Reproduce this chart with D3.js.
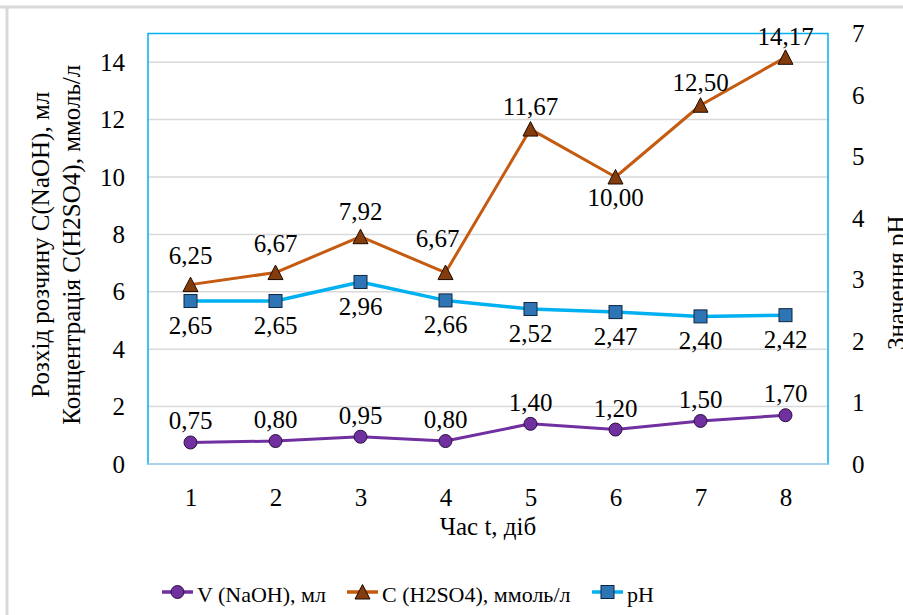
<!DOCTYPE html>
<html><head><meta charset="utf-8">
<script src="https://cdn.jsdelivr.net/npm/d3@7"></script>
<style>
html,body{margin:0;padding:0;background:#fff;}
svg{display:block;}
svg text{font-family:"Liberation Serif","Tinos","Times New Roman","DejaVu Serif","Noto Serif",serif !important;fill:#000;}
</style></head>
<body>
<svg id="chart" width="903" height="615"></svg>
<script>
// ---- data ----
const days = [1, 2, 3, 4, 5, 6, 7, 8];
const vNaOH = [0.75, 0.80, 0.95, 0.80, 1.40, 1.20, 1.50, 1.70];
const cH2SO4 = [6.25, 6.67, 7.92, 6.67, 11.67, 10.00, 12.50, 14.17];
const pH = [2.65, 2.65, 2.96, 2.66, 2.52, 2.47, 2.40, 2.42];
const leftTicks = [0, 2, 4, 6, 8, 10, 12, 14];
const rightTicks = [0, 1, 2, 3, 4, 5, 6, 7];
const seriesNames = ["V (NaOH), мл", "C (H2SO4), ммоль/л", "pH"];
const xTitle = "Час t, діб";
const yTitleLines = ["Розхід розчину C(NaOH), мл", "Концентрація C(H2SO4), ммоль/л"];
const y2Title = "Значення pH";

// ---- layout ----
const SERIF = '"Liberation Serif","Tinos","Times New Roman","DejaVu Serif","Noto Serif",serif';
const svg = d3.select("#chart");
const P = {l: 148, r: 828, t: 33.5, b: 464};
const FONT = 25;

const x = d3.scalePoint().domain(days).range([P.l, P.r]).padding(0.5);
const yL = d3.scaleLinear().domain([0, 15]).range([P.b, P.t]);
const yR = d3.scaleLinear().domain([0, 7]).range([P.b, P.t]);
const fmt = v => d3.format(".2f")(v).replace(".", ",");

// chart-area frame (partial, as in the crop)
svg.append("line").attr("x1", 0).attr("x2", 903).attr("y1", 7).attr("y2", 7)
  .attr("stroke", "#d9d9d9").attr("stroke-width", 3);
svg.append("line").attr("x1", 7).attr("x2", 7).attr("y1", 7).attr("y2", 615)
  .attr("stroke", "#d9d9d9").attr("stroke-width", 3);

// gridlines
svg.append("g").selectAll("line").data(leftTicks.filter(d => d > 0)).join("line")
  .attr("x1", P.l).attr("x2", P.r)
  .attr("y1", d => yL(d)).attr("y2", d => yL(d))
  .attr("stroke", "#d9d9d9").attr("stroke-width", 1.5);

// plot border
svg.append("rect").attr("x", P.l).attr("y", P.t)
  .attr("width", P.r - P.l).attr("height", P.b - P.t)
  .attr("fill", "none").attr("stroke", "#00b0f0").attr("stroke-width", 1.5);
svg.append("line").attr("x1", P.l).attr("x2", P.r).attr("y1", P.b).attr("y2", P.b)
  .attr("stroke", "#a9d3ea").attr("stroke-width", 2);

// axes
function styleAxis(g) {
  g.attr("font-family", SERIF);
  g.select(".domain").remove();
  g.selectAll("text").style("font-size", FONT + "px").style("font-family", SERIF).attr("fill", "#000");
}
svg.append("g").attr("transform", `translate(${P.l},0)`)
  .call(d3.axisLeft(yL).tickValues(leftTicks).tickFormat(d3.format("d")).tickSize(0).tickPadding(23)).call(styleAxis);
svg.append("g").attr("transform", `translate(${P.r},0)`)
  .call(d3.axisRight(yR).tickValues(rightTicks).tickFormat(d3.format("d")).tickSize(0).tickPadding(24)).call(styleAxis);
svg.append("g").attr("transform", `translate(0,${P.b})`)
  .call(d3.axisBottom(x).tickSize(0).tickPadding(24)).call(styleAxis);

// axis titles
svg.append("text").attr("x", (P.l + P.r) / 2).attr("y", 535)
  .attr("text-anchor", "middle").style("font-size", FONT + "px").text(xTitle);
const ytg = svg.append("g").attr("transform", `translate(0,${(P.t + P.b) / 2 - 4}) rotate(-90)`);
yTitleLines.forEach((t, i) => {
  ytg.append("text").attr("x", 0).attr("y", 49 + i * 31)
    .attr("text-anchor", "middle").style("font-size", FONT + "px").text(t);
});
svg.append("text").attr("transform", `translate(905,${(P.t + P.b) / 2 + 34}) rotate(-90)`)
  .attr("text-anchor", "middle").style("font-size", FONT + "px").text(y2Title);

// marker shapes
const triPath = "M0,-7.5L7.5,7L-7.5,7Z";
function drawMarker(g, kind, cx, cy) {
  if (kind === "circle") {
    g.append("circle").attr("cx", cx).attr("cy", cy).attr("r", 6.5)
      .attr("fill", "#7030a0").attr("stroke", "#2b1040").attr("stroke-width", 1);
  } else if (kind === "tri") {
    g.append("path").attr("d", triPath).attr("transform", `translate(${cx},${cy})`)
      .attr("fill", "#843c0c").attr("stroke", "#1a0a00").attr("stroke-width", 1);
  } else {
    g.append("rect").attr("x", cx - 6.5).attr("y", cy - 6.5).attr("width", 13).attr("height", 13)
      .attr("fill", "#2e75b6").attr("stroke", "#10253f").attr("stroke-width", 1);
  }
}

const series = [
  {vals: cH2SO4, scale: yL, color: "#c55a11", kind: "tri", width: 3},
  {vals: pH, scale: yR, color: "#00b0f0", kind: "sq", width: 3.5},
  {vals: vNaOH, scale: yL, color: "#7030a0", kind: "circle", width: 3},
];
// label placement (style): offsets of baseline from point
const labelDy = {
  circle: days.map(() => -13),
  tri: [-21, -21, -17, -26, -14, 29, -14, -12],
  sq: days.map(() => 33),
};
const labelDx = {tri: [0, 0, 0, -8, 0, 0, 0, 0]};

series.forEach(s => {
  const g = svg.append("g");
  const line = d3.line().x((d, i) => x(days[i])).y(d => s.scale(d));
  g.append("path").datum(s.vals).attr("d", line)
    .attr("fill", "none").attr("stroke", s.color).attr("stroke-width", s.width)
    .attr("stroke-linejoin", "round");
  s.vals.forEach((v, i) => drawMarker(g, s.kind, x(days[i]), s.scale(v)));
});
series.forEach(s => {
  const g = svg.append("g");
  s.vals.forEach((v, i) => {
    const dx = (labelDx[s.kind] || [])[i] || 0;
    g.append("text").attr("x", x(days[i]) + dx).attr("y", s.scale(v) + labelDy[s.kind][i])
      .attr("text-anchor", "middle").style("font-size", FONT + "px").text(fmt(v));
  });
});

// legend
const legend = [
  {name: seriesNames[0], color: "#7030a0", kind: "circle", x0: 162},
  {name: seriesNames[1], color: "#c55a11", kind: "tri", x0: 347},
  {name: seriesNames[2], color: "#00b0f0", kind: "sq", x0: 592},
];
const ly = 592;
legend.forEach(L => {
  const g = svg.append("g");
  g.append("line").attr("x1", L.x0).attr("x2", L.x0 + 31).attr("y1", ly).attr("y2", ly)
    .attr("stroke", L.color).attr("stroke-width", 3.5);
  drawMarker(g, L.kind, L.x0 + 15.5, ly);
  g.append("text").attr("x", L.x0 + 35).attr("y", ly + 10).style("font-size", "22px").text(L.name);
});
</script>
</body></html>
